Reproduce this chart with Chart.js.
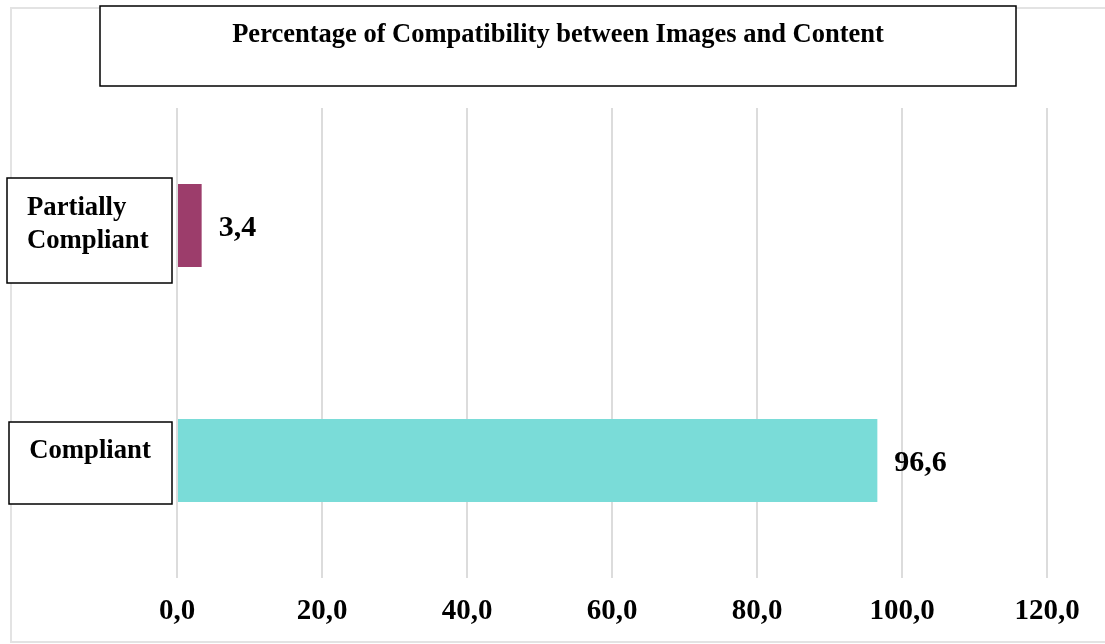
<!DOCTYPE html>
<html>
<head>
<meta charset="utf-8">
<script src="https://cdn.jsdelivr.net/npm/chart.js@4.4.0/dist/chart.umd.min.js"></script>
<style>
html,body{margin:0;padding:0;background:#fff;}
#wrap{width:1105px;height:644px;position:relative;}
</style>
</head>
<body>
<div id="wrap"><canvas id="c" width="1105" height="644"></canvas></div>
<script>
const categories = ["Partially Compliant", "Compliant"];
const categoryLines = [["Partially", "Compliant"], ["Compliant"]];
const values = [3.4, 96.6];
const barColors = ["#9c3d6b", "#7adcd8"];
const titleText = "Percentage of Compatibility between Images and Content";
const xMax = 120;
const xStep = 20;

const SERIF = '"Liberation Serif", "DejaVu Serif", serif';
const fmt = v => Number(v).toFixed(1).replace('.', ',');

const decorPlugin = {
  id: 'decor',
  beforeDraw(chart) {
    const ctx = chart.ctx;
    ctx.save();
    ctx.strokeStyle = '#e3e3e3';
    ctx.lineWidth = 2;
    ctx.strokeRect(11, 8, 1105, 634);
    ctx.restore();
  },
  afterDraw(chart) {
    const ctx = chart.ctx;
    const y = chart.scales.y;
    const x = chart.scales.x;
    ctx.save();
    // title box
    ctx.fillStyle = '#fff';
    ctx.fillRect(100, 6, 916, 80);
    ctx.strokeStyle = '#000';
    ctx.lineWidth = 1.5;
    ctx.strokeRect(100, 6, 916, 80);
    ctx.fillStyle = '#000';
    ctx.font = 'bold 26.5px ' + SERIF;
    ctx.textAlign = 'center';
    ctx.textBaseline = 'middle';
    ctx.fillText(titleText, 558, 35);

    // category label boxes
    const boxes = [
      {x0: 7, x1: 172, top: -47.5, bottom: 57.5, tx: 27, align: 'left', lines: [-17, 16]},
      {x0: 9, x1: 172, top: -38.5, bottom: 43.5, tx: 90, align: 'center', lines: [-9]}
    ];
    categories.forEach((c, i) => {
      const cy = y.getPixelForValue(i);
      const b = boxes[i];
      ctx.fillStyle = '#fff';
      ctx.fillRect(b.x0, cy + b.top, b.x1 - b.x0, b.bottom - b.top);
      ctx.strokeStyle = '#000';
      ctx.lineWidth = 1.5;
      ctx.strokeRect(b.x0, cy + b.top, b.x1 - b.x0, b.bottom - b.top);
      ctx.fillStyle = '#000';
      ctx.font = 'bold 26.7px ' + SERIF;
      ctx.textAlign = b.align;
      ctx.textBaseline = 'middle';
      categoryLines[i].forEach((ln, k) => ctx.fillText(ln, b.tx, cy + b.lines[k]));
    });

    // data labels
    ctx.font = 'bold 30px ' + SERIF;
    ctx.textAlign = 'left';
    ctx.textBaseline = 'middle';
    ctx.fillStyle = '#000';
    values.forEach((v, i) => {
      ctx.fillText(fmt(v), x.getPixelForValue(v) + 17, y.getPixelForValue(i) + 3);
    });
    ctx.restore();
  }
};

new Chart(document.getElementById('c'), {
  type: 'bar',
  data: {
    labels: categories,
    datasets: [{
      data: values,
      backgroundColor: barColors,
      borderWidth: 0,
      barPercentage: 0.354,
      categoryPercentage: 1
    }]
  },
  options: {
    indexAxis: 'y',
    responsive: false,
    animation: false,
    layout: { padding: { left: 177, right: 58, top: 108, bottom: 0 } },
    plugins: { legend: { display: false }, tooltip: { enabled: false }, title: { display: false } },
    scales: {
      x: {
        min: 0, max: xMax,
        border: { display: false },
        grid: { color: '#dcdcdc', lineWidth: 2, drawTicks: false },
        ticks: {
          stepSize: xStep,
          padding: 16,
          color: '#000',
          font: { family: SERIF, size: 29, weight: 'bold' },
          callback: v => fmt(v)
        },
        afterFit(s) { s.height = 66; }
      },
      y: { display: false }
    }
  },
  plugins: [decorPlugin]
});
</script>
</body>
</html>
